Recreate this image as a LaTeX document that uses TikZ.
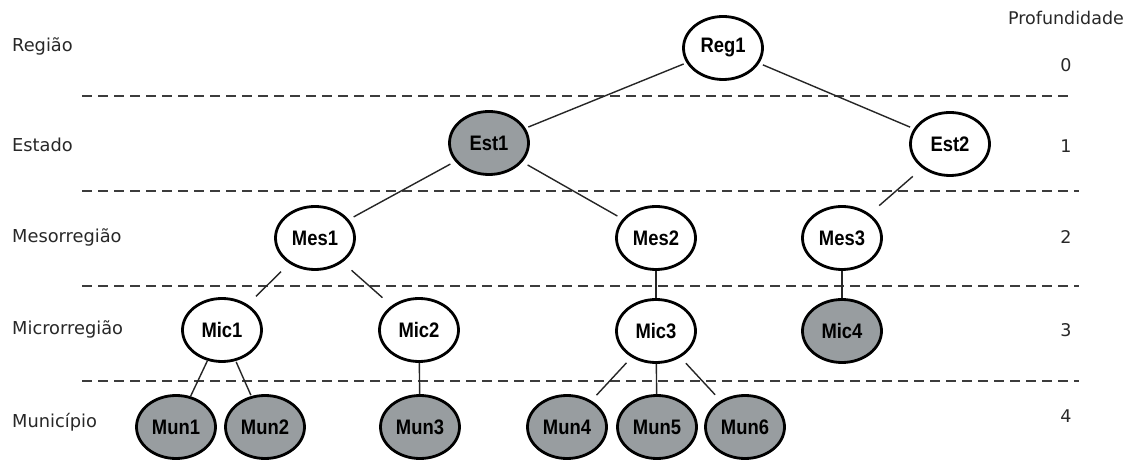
\documentclass[tikz,border=0pt]{standalone}
\usepackage{fontspec}
\setmainfont{DejaVu Sans}
\newfontfamily\nodefont{Liberation Sans}
\usetikzlibrary{shapes.geometric}
\definecolor{nodegray}{RGB}{152,157,160}
\definecolor{labelgray}{RGB}{40,40,40}
\definecolor{dashgray}{RGB}{60,60,60}
\tikzset{
  tn/.style={ellipse, draw=black, line width=2.8pt, fill=white,
    minimum width=79pt, minimum height=63pt, inner sep=0pt,
    font=\nodefont\bfseries\fontsize{18.4}{20}\selectfont},
  tg/.style={tn, fill=nodegray},
  lvl/.style={anchor=base west, text=labelgray, inner sep=0pt,
    font=\fontsize{17.8}{20}\selectfont},
  num/.style={anchor=base, text=labelgray, inner sep=0pt,
    font=\fontsize{17.5}{20}\selectfont},
  sep/.style={draw=dashgray, line width=1.8pt, dash pattern=on 9.5pt off 6.5pt},
  edge/.style={draw=black!85, line width=1.4pt},
  gap/.style={shorten <=#1, shorten >=#1}
}
\newcommand{\tall}[1]{\scalebox{1}[1.14]{#1}}
\begin{document}
\begin{tikzpicture}[x=1pt,y=-1pt]
\useasboundingbox (0,0) rectangle (1133,462);
\fill[white] (0,0) rectangle (1133,462);

% separators
\coordinate (s1a) at (82,96);  \coordinate (s1b) at (1072,96);
\coordinate (s2a) at (82,191); \coordinate (s2b) at (1079,191);
\coordinate (s3a) at (82,286); \coordinate (s3b) at (1079,286);
\coordinate (s4a) at (82,381); \coordinate (s4b) at (1079,381);
\draw[sep] (s1a) -- (s1b);
\draw[sep] (s2a) -- (s2b);
\draw[sep] (s3a) -- (s3b);
\draw[sep] (s4a) -- (s4b);

% level labels
\node[lvl] (lR) at (12,52) {Região};
\node[lvl] (lE) at (12,152) {Estado};
\node[lvl] (lM) at (12,243) {Mesorregião};
\node[lvl] (lMi) at (12,335) {Microrregião};
\node[lvl] (lMu) at (12,427) {Município};

% depth
\node[num] (prof) at (1066,25) {Profundidade};
\node[num] (d0) at (1066,72) {0};
\node[num] (d1) at (1066,153) {1};
\node[num] (d2) at (1066,244) {2};
\node[num] (d3) at (1066,337) {3};
\node[num] (d4) at (1066,422) {4};

% nodes
\node[tn] (reg1) at (723,48) {\tall{Reg1}};
\node[tg] (est1) at (489,143) {\tall{Est1}};
\node[tn] (est2) at (950,144) {\tall{Est2}};
\node[tn] (mes1) at (315,238) {\tall{Mes1}};
\node[tn] (mes2) at (656,238) {\tall{Mes2}};
\node[tn] (mes3) at (842,238) {\tall{Mes3}};
\node[tn] (mic1) at (222,330) {\tall{Mic1}};
\node[tn] (mic2) at (419,330) {\tall{Mic2}};
\node[tn] (mic3) at (656,331) {\tall{Mic3}};
\node[tg] (mic4) at (842,331) {\tall{Mic4}};
\node[tg] (mun1) at (176,427) {\tall{Mun1}};
\node[tg] (mun2) at (265,427) {\tall{Mun2}};
\node[tg] (mun3) at (420,427) {\tall{Mun3}};
\node[tg] (mun4) at (567,427) {\tall{Mun4}};
\node[tg] (mun5) at (657,427) {\tall{Mun5}};
\node[tg] (mun6) at (745,427) {\tall{Mun6}};

% edges
\draw[edge, gap=3pt] (reg1) -- (est1);
\draw[edge, gap=4pt] (reg1) -- (est2);
\draw[edge, gap=5.5pt] (est1) -- (mes1);
\draw[edge, gap=6pt] (est1) -- (mes2);
\draw[edge, gap=12.5pt] (est2) -- (mes3);
\draw[edge, gap=11.5pt] (mes1) -- (mic1);
\draw[edge, gap=12pt] (mes1) -- (mic2);
\draw[edge] (mes2) -- (mic3);
\draw[edge] (mes3) -- (mic4);
\draw[edge] (mic1) -- (mun1);
\draw[edge, gap=1pt] (mic1) -- (mun2);
\draw[edge] (mic2) -- (mun3);
\draw[edge, gap=7.5pt] (mic3) -- (mun4);
\draw[edge] (mic3) -- (mun5);
\draw[edge, gap=8pt] (mic3) -- (mun6);
\end{tikzpicture}
\end{document}
